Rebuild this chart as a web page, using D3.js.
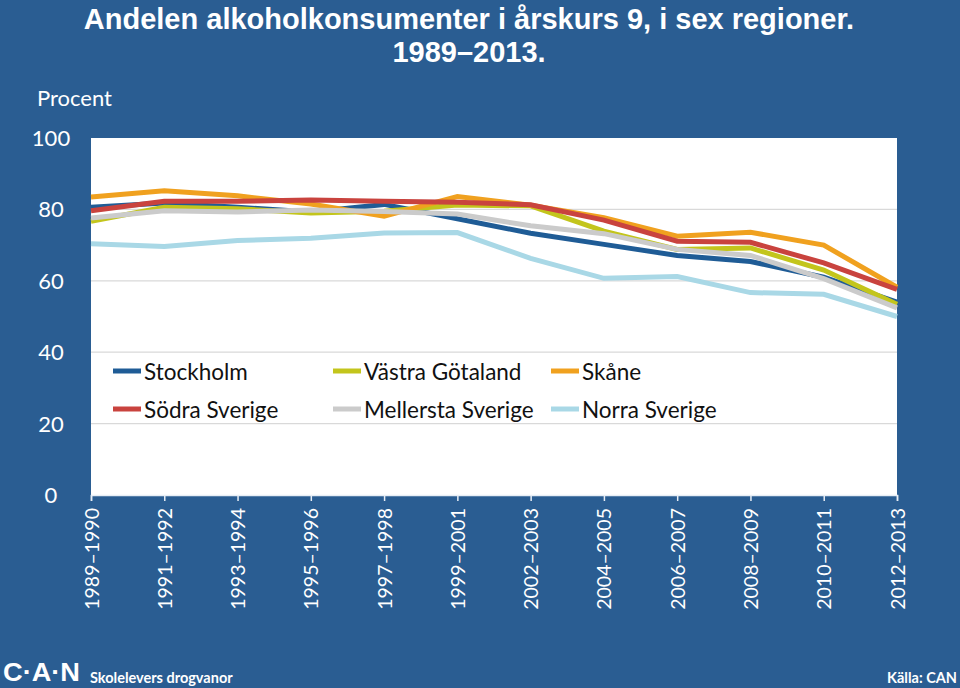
<!DOCTYPE html>
<html><head><meta charset="utf-8">
<script src="https://cdn.jsdelivr.net/npm/d3@7"></script>
<style>
html,body{margin:0;padding:0;background:#2a5d92;}
svg{display:block;}
</style></head>
<body>
<script>
const categories = ["1989–1990","1991–1992","1993–1994","1995–1996","1997–1998","1999–2001","2002–2003","2004–2005","2006–2007","2008–2009","2010–2011","2012–2013"];
const stockholm = [80.6,81.8,80.6,79.3,81.4,77.4,73.3,70.2,67.1,65.4,61.0,54.0];
const vastraGotaland = [76.7,80.6,80.2,79.0,79.5,81.2,81.0,73.9,68.8,69.2,63.0,53.4];
const skane = [83.5,85.2,83.8,81.5,78.1,83.6,81.2,77.7,72.5,73.6,70.0,58.2];
const sodraSverige = [79.6,82.3,82.3,82.6,82.3,82.0,81.3,77.0,71.1,70.8,65.0,57.6];
const mellerstaSverige = [77.6,79.6,79.3,79.8,79.4,78.7,75.4,73.2,68.8,67.1,60.6,52.4];
const norraSverige = [70.4,69.6,71.3,71.9,73.4,73.5,66.3,60.7,61.2,56.7,56.2,50.0];
const seriesNames = ["Stockholm","Västra Götaland","Skåne","Södra Sverige","Mellersta Sverige","Norra Sverige"];
const seriesColors = ["#1f5c96","#c3c51c","#f0a11f","#c9433e","#cbcbcb","#a9d8e6"];
const yTicks = [0,20,40,60,80,100];

const seriesValues = [stockholm, vastraGotaland, skane, sodraSverige, mellerstaSverige, norraSverige];
const W = 960, H = 688;
const L = 91, R = 897, T = 138, B = 495;
const font = "Lato, 'Open Sans', sans-serif";
const titleFont = "'Liberation Sans', Arial, sans-serif";

const svg = d3.select("body").append("svg").attr("width", W).attr("height", H);
svg.append("rect").attr("width", W).attr("height", H).attr("fill", "#2a5d92");

const x = d3.scalePoint().domain(categories).range([L, R]);
const y = d3.scaleLinear().domain([0, 100]).range([B, T]);

// plot area
svg.append("rect").attr("x", L).attr("y", T).attr("width", R - L).attr("height", B - T).attr("fill", "#ffffff");

// gridlines
svg.append("g").selectAll("line").data(yTicks.filter(d => d > 0 && d < 100)).join("line")
  .attr("x1", L).attr("x2", R).attr("y1", d => y(d)).attr("y2", d => y(d))
  .attr("stroke", "#d9d9d9").attr("stroke-width", 1.2);

// y labels
svg.append("g").selectAll("text").data(yTicks).join("text")
  .attr("x", 51).attr("y", d => y(d)).attr("dy", "0.36em")
  .attr("text-anchor", "middle").attr("fill", "#ffffff")
  .attr("font-family", font).attr("font-size", 22).text(d => d);

// x axis
const xAxis = svg.append("g").attr("transform", `translate(0,${B})`)
  .call(d3.axisBottom(x).tickSize(6).tickPadding(10));
xAxis.select(".domain").attr("stroke", "#e8eef5").attr("stroke-width", 1.5);
xAxis.selectAll(".tick line").attr("stroke", "#e8eef5").attr("stroke-width", 1.5);
xAxis.selectAll(".tick text")
  .attr("fill", "#ffffff").attr("font-family", font).attr("font-size", 19.5)
  .attr("transform", "rotate(-90)").attr("text-anchor", "end")
  .attr("x", -13).attr("y", 0).attr("dy", "0.36em");

// lines
const line = d3.line().x((d, i) => x(categories[i])).y(d => y(d));
svg.append("g").selectAll("path").data(seriesValues).join("path")
  .attr("d", d => line(d)).attr("fill", "none")
  .attr("stroke", (d, i) => seriesColors[i]).attr("stroke-width", 5)
  .attr("stroke-linejoin", "miter").attr("stroke-linecap", "butt");

// legend
const legCols = [113, 333, 551];
const legRows = [373, 411];
const leg = svg.append("g").selectAll("g").data(seriesNames).join("g")
  .attr("transform", (d, i) => `translate(${legCols[i % 3]},${legRows[Math.floor(i / 3)]})`);
leg.append("line").attr("x1", 0).attr("x2", 28).attr("y1", -2).attr("y2", -2)
  .attr("stroke", (d, i) => seriesColors[i]).attr("stroke-width", 5);
leg.append("text").attr("x", 31).attr("y", 0).attr("dy", "0.32em")
  .attr("font-family", font).attr("font-size", 22.5).attr("fill", "#111")
  .text(d => d);

// title
svg.append("text").attr("x", 469).attr("y", 29).attr("text-anchor", "middle")
  .attr("font-family", titleFont)
  .attr("font-weight", "bold").attr("font-size", 29).attr("fill", "#ffffff")
  .text("Andelen alkoholkonsumenter i årskurs 9, i sex regioner.");
svg.append("text").attr("x", 469).attr("y", 62).attr("text-anchor", "middle")
  .attr("font-family", titleFont)
  .attr("font-weight", "bold").attr("font-size", 29).attr("fill", "#ffffff")
  .text("1989–2013.");

svg.append("text").attr("x", 37).attr("y", 106)
  .attr("font-family", font).attr("font-size", 22).attr("fill", "#ffffff").text("Procent");

// footer
svg.append("text").attr("x", 3).attr("y", 681)
  .attr("font-family", titleFont).attr("font-weight", "bold")
  .attr("font-size", 25).attr("fill", "#ffffff")
  .attr("textLength", 77).attr("lengthAdjust", "spacingAndGlyphs").text("C·A·N");
svg.append("text").attr("x", 90).attr("y", 683)
  .attr("font-family", font).attr("font-weight", "bold")
  .attr("font-size", 14.5).attr("fill", "#ffffff").text("Skolelevers drogvanor");
svg.append("text").attr("x", 957).attr("y", 683).attr("text-anchor", "end")
  .attr("font-family", font).attr("font-weight", "bold")
  .attr("font-size", 14.5).attr("fill", "#ffffff").text("Källa: CAN");
</script>
</body></html>
